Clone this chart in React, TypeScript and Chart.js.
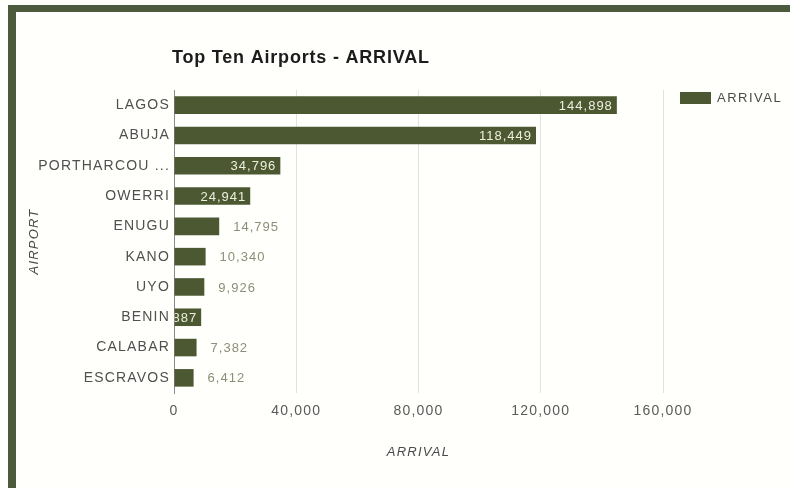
import React, { useEffect, useRef } from "react";
import { Chart, registerables } from "chart.js";

Chart.register(...registerables);

const chartTitle = "Top Ten Airports - ARRIVAL";
const seriesName = "ARRIVAL";
const xAxisTitle = "ARRIVAL";
const yAxisTitle = "AIRPORT";
const airports = ["LAGOS", "ABUJA", "PORTHARCOU ...", "OWERRI", "ENUGU", "KANO", "UYO", "BENIN", "CALABAR", "ESCRAVOS"];
const arrivals = [144898, 118449, 34796, 24941, 14795, 10340, 9926, 8887, 7382, 6412];
const insideLabelAirports = ["LAGOS", "ABUJA", "PORTHARCOU ...", "OWERRI", "BENIN"];
const xTickValues = [0, 40000, 80000, 120000, 160000];

const BAR = "#4b5832";
const FRAME = "#4d5a3e";
const FONT = "'Liberation Sans', Arial, sans-serif";

const fmt = (v: number) => v.toLocaleString("en-US");

const overlayPlugin = {
  id: "overlay",
  beforeDraw(chart: any) {
    chart.ctx.letterSpacing = "1.2px";
  },
  afterDatasetsDraw(chart: any) {
    const ctx = chart.ctx;
    const meta = chart.getDatasetMeta(0);
    meta.data.forEach((bar: any, i: number) => {
      const text = fmt(arrivals[i]);
      const h = bar.height;
      ctx.save();
      ctx.font = `13px ${FONT}`;
      ctx.letterSpacing = "1px";
      ctx.textBaseline = "middle";
      if (insideLabelAirports.includes(airports[i])) {
        ctx.beginPath();
        ctx.rect(bar.base, bar.y - h / 2, bar.x - bar.base, h);
        ctx.clip();
        ctx.textAlign = "right";
        ctx.fillStyle = "#eeeedd";
        ctx.fillText(text, bar.x - 4, bar.y + 1);
      } else {
        ctx.textAlign = "left";
        ctx.fillStyle = "#8e8e78";
        ctx.fillText(text, bar.x + 14, bar.y + 1);
      }
      ctx.restore();
    });
  },
  afterDraw(chart: any) {
    const ctx = chart.ctx;
    ctx.save();
    ctx.letterSpacing = "0.8px";
    ctx.font = `bold 18px ${FONT}`;
    ctx.fillStyle = "#1c1c1c";
    ctx.textAlign = "left";
    ctx.textBaseline = "middle";
    ctx.fillText(chartTitle, 172, 58);
    ctx.fillStyle = BAR;
    ctx.fillRect(680, 92, 31, 12);
    ctx.letterSpacing = "1.5px";
    ctx.font = `13px ${FONT}`;
    ctx.fillStyle = "#4a4a4a";
    ctx.fillText(seriesName, 717, 98);
    ctx.restore();
    ctx.letterSpacing = "0px";
  },
};

export default function App() {
  const ref = useRef<HTMLCanvasElement>(null);
  useEffect(() => {
    document.body.style.margin = "0";
    const chart = new Chart(ref.current!, {
      type: "bar",
      data: {
        labels: airports,
        datasets: [
          {
            label: seriesName,
            data: arrivals,
            backgroundColor: BAR,
            borderWidth: 0,
            barPercentage: 0.58,
            categoryPercentage: 1,
          },
        ],
      },
      options: {
        indexAxis: "y",
        animation: false,
        responsive: false,
        devicePixelRatio: 1,
        layout: { padding: { left: 23, top: 90, right: 127, bottom: 24 } },
        plugins: {
          legend: { display: false },
          title: { display: false },
          tooltip: { enabled: false },
        },
        scales: {
          x: {
            type: "linear",
            min: 0,
            max: 160000,
            afterBuildTicks: (s: any) => {
              s.ticks = xTickValues.map((v) => ({ value: v }));
            },
            afterFit: (s: any) => {
              s.height = 71;
            },
            grid: { color: "#e2e2e2", drawTicks: false },
            border: { display: false },
            ticks: {
              padding: 10,
              color: "#5a5a5a",
              font: { family: FONT, size: 14 },
              callback: (v: any) => fmt(Number(v)),
            },
            title: {
              display: true,
              text: xAxisTitle,
              color: "#4a4a4a",
              font: { family: FONT, size: 13, style: "italic" },
              padding: { top: 4, bottom: 4 },
            },
          },
          y: {
            type: "category",
            afterFit: (s: any) => {
              s.width = 151;
            },
            grid: { display: false, drawTicks: false },
            border: { display: true, color: "#8a8a8a", width: 1 },
            ticks: {
              padding: 4,
              color: "#505050",
              font: { family: FONT, size: 14 },
            },
            title: {
              display: true,
              text: yAxisTitle,
              color: "#4a4a4a",
              font: { family: FONT, size: 13, style: "italic" },
              padding: { top: 4, bottom: 4 },
            },
          },
        },
      },
      plugins: [overlayPlugin],
    } as any);
    return () => chart.destroy();
  }, []);

  return (
    <div style={{ position: "absolute", left: 0, top: 0, width: 790, height: 488, background: "#fffffc", overflow: "hidden" }}>
      <canvas ref={ref} width={790} height={488} style={{ position: "absolute", left: 0, top: 0, width: 790, height: 488 }} />
      <div style={{ position: "absolute", left: 8, top: 5, width: 782, height: 7, background: FRAME }} />
      <div style={{ position: "absolute", left: 8, top: 5, width: 8, height: 483, background: FRAME }} />
    </div>
  );
}
